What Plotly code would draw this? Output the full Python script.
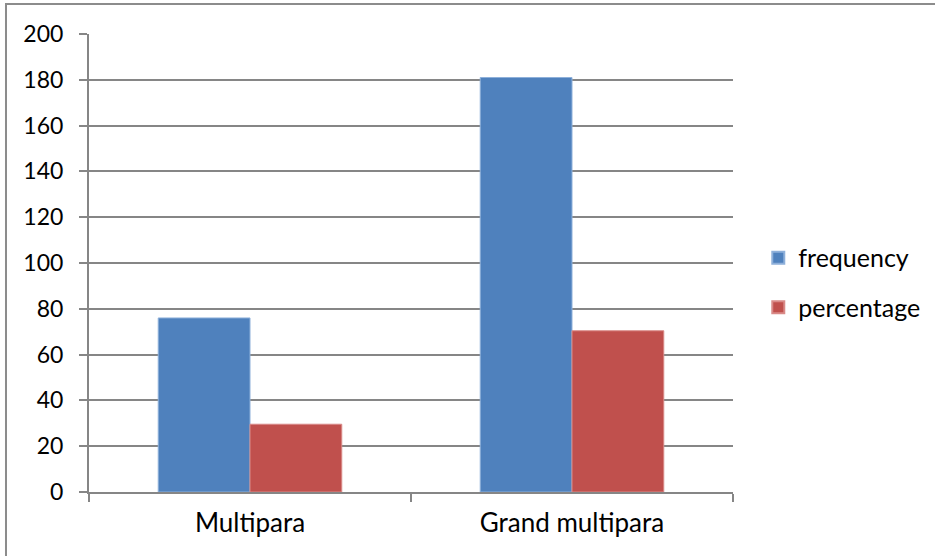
import plotly.graph_objects as go

# Parity groups and the two measured series
categories = ["Multipara", "Grand multipara"]
frequency = [76, 181]
percentage = [29.6, 70.4]

y_ticks = list(range(0, 201, 20))

BLUE = "#4F81BD"
RED = "#C0504D"
GRID = "#868686"
FONT = "Lato, 'Liberation Sans', Arial, sans-serif"

fig = go.Figure()
fig.add_trace(go.Bar(
    x=categories, y=frequency, name="frequency",
    marker=dict(color=BLUE, line=dict(color="#8EB0DA", width=1)),
    legendgroup="f",
))
fig.add_trace(go.Bar(
    x=categories, y=percentage, name="percentage",
    marker=dict(color=RED, line=dict(color="#D98A88", width=1)),
    legendgroup="p",
))

fig.update_layout(
    width=935, height=556,
    margin=dict(l=89, r=202, t=34, b=64, autoexpand=False),
    paper_bgcolor="white", plot_bgcolor="white",
    font=dict(family=FONT, size=24, color="#000000"),
    barmode="group", bargap=0.43, bargroupgap=0,
    showlegend=True,
    legend=dict(
        xref="container", yref="container",
        x=0.811, y=0.492, xanchor="left", yanchor="middle",
        traceorder="grouped", tracegroupgap=14,
        font=dict(family=FONT, size=25, color="#000000"),
        bgcolor="rgba(0,0,0,0)", itemsizing="constant",
    ),
    xaxis=dict(
        type="category",
        showline=True, linecolor=GRID, linewidth=2,
        ticks="outside", tickson="boundaries", ticklen=8,
        tickcolor=GRID, tickwidth=2,
        showgrid=False, zeroline=False,
        tickfont=dict(family=FONT, size=26, color="#000000"),
        ticklabelstandoff=7,
    ),
    yaxis=dict(
        range=[0, 200], tickvals=y_ticks,
        showline=True, linecolor=GRID, linewidth=2,
        ticks="outside", ticklen=8, tickcolor=GRID, tickwidth=2,
        showgrid=True, gridcolor=GRID, gridwidth=2,
        zeroline=False,
        tickfont=dict(family=FONT, size=23, color="#000000"),
        ticklabelstandoff=11,
    ),
    shapes=[
        # chart-area frame
        dict(type="rect", xref="paper", yref="paper",
             x0=-0.1289, x1=1.5, y0=-0.5, y1=1.0655,
             line=dict(color="#8C8C8C", width=2), fillcolor="rgba(0,0,0,0)",
             layer="below"),
    ],
)

fig.write_html("out.html")
